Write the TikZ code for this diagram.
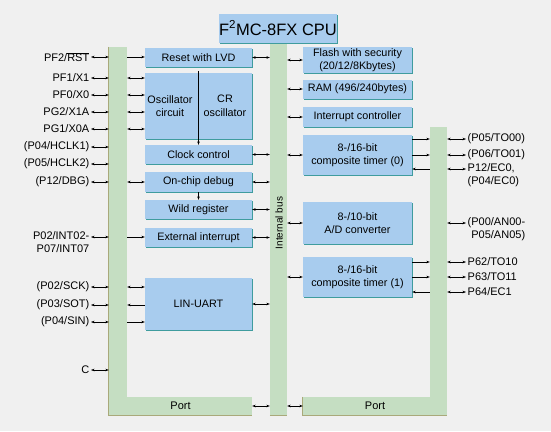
\documentclass[tikz,border=0pt]{standalone}
\usepackage{fontspec}
\setmainfont{Liberation Sans}
\usepackage{xcolor}
\usepackage{tikz}
\usetikzlibrary{positioning, arrows.meta, calc, shadows}
\definecolor{bggray}{HTML}{F0F0F0}
\definecolor{blkblue}{HTML}{A8CCEE}
\definecolor{blkedge}{HTML}{3F9C9E}
\definecolor{busgreen}{HTML}{C5DEC2}
\definecolor{busedge}{HTML}{A9A97A}

\begin{document}
\begin{tikzpicture}[x=1pt, y=-1pt, >={Stealth[length=3.5pt, width=2.6pt]},
  blk/.style={fill=blkblue, inner sep=0pt, align=center,
    font=\fontsize{10.8}{13.5}\selectfont,
    drop shadow={shadow xshift=0.6pt, shadow yshift=-1.4pt, fill=blkedge, opacity=1}},
  lblk/.style={blk, minimum width=107pt},
  rblk/.style={blk, minimum width=109pt},
  bus/.style={fill=busgreen, inner sep=0pt, font=\fontsize{11}{12}\selectfont},
  pinlbl/.style={inner sep=1.5pt, font=\fontsize{11}{13}\selectfont},
  link/.style={line width=0.5pt}]
  \fill[bggray] (0,0) rectangle (551,431);
  \useasboundingbox (0,0) rectangle (551,431);

  % port bars and internal bus
  \node[bus, minimum width=18pt, minimum height=368pt] (lbar) at (118,231) {};
  \node[bus, minimum width=143pt, minimum height=18pt] (lport) at (180.5,406) {Port};
  \node[bus, minimum width=17pt, minimum height=373pt] (ibus) at (278.5,228.5) {};
  \node[bus, minimum width=17pt, minimum height=288pt] (rbar) at (438.5,271) {};
  \node[bus, minimum width=144pt, minimum height=18pt] (rport) at (375,406) {Port};
  \draw[busedge, line width=0.8pt] (lbar.north west) -- (lport.south west) -- (lport.south east);
  \draw[busedge, line width=0.8pt] (ibus.south west) -- (ibus.south east);
  \draw[busedge, line width=0.8pt] (rport.north west) -- (rport.south west) -- (rport.south east);
  \node[rotate=90, font=\fontsize{10}{11}\selectfont] (buslbl) at (279,223) {Internal bus};

  \node[blk, minimum width=110pt, minimum height=29pt, font=\fontsize{16.5}{18}\selectfont]
    (cpu) at (278,28) {F\textsuperscript{2}MC-8FX CPU};

  % left column
  \node[lblk, minimum height=19pt] (rst) at (198.5,57.5) {Reset with LVD};
  \node[lblk, minimum height=66pt] (osc) at (198.5,106) {};
  \node[font=\fontsize{10.8}{13.5}\selectfont, align=center] (osccirc) at (170,106) {Oscillator\\circuit};
  \node[font=\fontsize{10.8}{13.5}\selectfont, align=center] (crosc) at (225,106) {CR\\oscillator};
  \node[lblk, minimum height=19pt] (clk) at (198.5,154.5) {Clock control};
  \node[lblk, minimum height=20pt] (dbg) at (198.5,182) {On-chip debug};
  \node[lblk, minimum height=19pt] (wild) at (198.5,209.5) {Wild register};
  \node[lblk, minimum height=19pt] (eint) at (198.5,237.5) {External interrupt};
  \node[lblk, minimum height=52pt] (uart) at (198.5,304) {LIN-UART};
  \draw[link, ->] ([yshift=2pt]osc.north) -- (clk.north);
  \draw[link, ->] (dbg.south) -- (wild.north);

  % right column
  \node[rblk, minimum height=26pt] (flash) at (357.5,60) {Flash with security\\(20/12/8Kbytes)};
  \node[rblk, minimum height=19pt] (ram) at (357.5,89) {RAM (496/240bytes)};
  \node[rblk, minimum height=20pt] (intc) at (357.5,117) {Interrupt controller};
  \node[rblk, minimum height=40pt] (tmr0) at (357.5,155) {8-/16-bit\\composite timer (0)};
  \node[rblk, minimum height=42pt] (adc) at (357.5,223) {8-/10-bit\\A/D converter};
  \node[rblk, minimum height=40pt] (tmr1) at (357.5,277) {8-/16-bit\\composite timer (1)};

  % left pins
  \node[pinlbl, anchor=east] (pf2) at (91,57) {PF2/$\overline{\mbox{RST}}$};
  \node[pinlbl, anchor=east] (pf1) at (91,78) {PF1/X1};
  \node[pinlbl, anchor=east] (pf0) at (91,95) {PF0/X0};
  \node[pinlbl, anchor=east] (pg2) at (91,112) {PG2/X1A};
  \node[pinlbl, anchor=east] (pg1) at (91,129) {PG1/X0A};
  \node[pinlbl, anchor=east] (hclk1) at (91,147) {(P04/HCLK1)};
  \node[pinlbl, anchor=east] (hclk2) at (91,164) {(P05/HCLK2)};
  \node[pinlbl, anchor=east] (dbgpin) at (91,182) {(P12/DBG)};
  \node[pinlbl, anchor=north east, align=right] (intpin) at (91,230) {P02/INT02-\\P07/INT07};
  \coordinate (intarr) at ([yshift=-7pt]intpin.north east);
  \node[pinlbl, anchor=east] (sck) at (91,287) {(P02/SCK)};
  \node[pinlbl, anchor=east] (sot) at (91,305) {(P03/SOT)};
  \node[pinlbl, anchor=east] (sin) at (91,322) {(P04/SIN)};
  \node[pinlbl, anchor=east] (cpin) at (91,370) {C};

  \foreach \p in {pf2,pf1,pf0,pg2,pg1,hclk1,hclk2,dbgpin,sck,sot,sin,cpin}
    \draw[link, <->] (\p.east) -- (\p.east -| lbar.west);
  \draw[link, <->] (intarr) -- (intarr -| lbar.west);

  \draw[link, ->] (pf2 -| lbar.east) -- (pf2 -| rst.west);
  \foreach \p in {pf1,pf0,pg2,pg1}
    \draw[link, <->] (\p -| lbar.east) -- (\p -| osc.west);
  \draw[link, <->] (dbgpin -| lbar.east) -- (dbgpin -| dbg.west);
  \draw[link, ->] (intarr -| lbar.east) -- (intarr -| eint.west);
  \draw[link, <->] (sck -| lbar.east) -- (sck -| uart.west);
  \draw[link, <-] (sot -| lbar.east) -- (sot -| uart.west);
  \draw[link, ->] (sin -| lbar.east) -- (sin -| uart.west);

  % internal bus links
  \foreach \b in {rst,clk,dbg,wild,eint,uart,lport}
    \draw[link, <->] (\b.east) -- (\b.east -| ibus.west);
  \foreach \b in {flash,ram,intc,tmr0,adc,tmr1,rport}
    \draw[link, <->] (\b.west -| ibus.east) -- (\b.west);

  % right pins
  \node[pinlbl, anchor=west] (to00) at (466,139) {(P05/TO00)};
  \node[pinlbl, anchor=west] (to01) at (466,155) {(P06/TO01)};
  \node[pinlbl, anchor=north west, align=left] (ec0) at (466,162) {P12/EC0,\\(P04/EC0)};
  \coordinate (ec0arr) at ([yshift=-7pt]ec0.north west);
  \node[pinlbl, anchor=north west, align=left] (an) at (466,216) {(P00/AN00-\\\phantom{(}P05/AN05)};
  \coordinate (anarr) at ([yshift=-7pt]an.north west);
  \node[pinlbl, anchor=west] (to10) at (466,262) {P62/TO10};
  \node[pinlbl, anchor=west] (to11) at (466,277) {P63/TO11};
  \node[pinlbl, anchor=west] (ec1) at (466,292) {P64/EC1};

  \foreach \p in {to00,to01,to10,to11,ec1}
    \draw[link, <->] (\p.west -| rbar.east) -- (\p.west);
  \draw[link, <->] (ec0arr -| rbar.east) -- (ec0arr);
  \draw[link, <->] (anarr -| rbar.east) -- (anarr);

  \draw[link, ->] (to00 -| tmr0.east) -- (to00 -| rbar.west);
  \draw[link, ->] (to01 -| tmr0.east) -- (to01 -| rbar.west);
  \draw[link, <-] (ec0arr -| tmr0.east) -- (ec0arr -| rbar.west);
  \draw[link, ->] (to10 -| tmr1.east) -- (to10 -| rbar.west);
  \draw[link, ->] (to11 -| tmr1.east) -- (to11 -| rbar.west);
  \draw[link, <-] (ec1 -| tmr1.east) -- (ec1 -| rbar.west);
\end{tikzpicture}
\end{document}
